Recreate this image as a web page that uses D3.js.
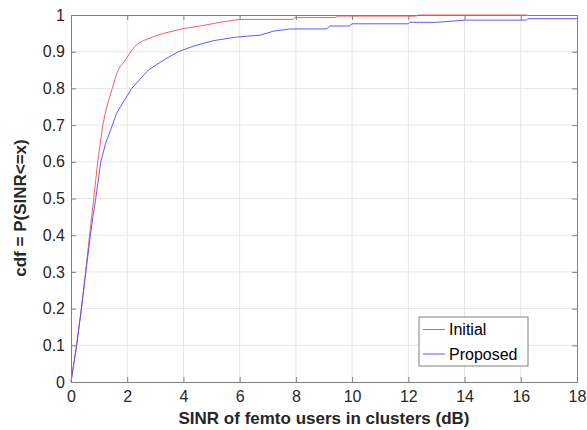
<!DOCTYPE html>
<html>
<head>
<meta charset="utf-8">
<script src="https://cdn.jsdelivr.net/npm/d3@7"></script>
<style>
  body { margin: 0; background: #fff; }
  text { font-family: "Liberation Sans", Arial, sans-serif; }
</style>
</head>
<body>
<script>
// CDF samples
let initialX = [0, 0.2, 0.37, 0.52, 0.66, 0.81, 0.95, 1.04, 1.13, 1.24, 1.35, 1.47, 1.62, 1.75, 1.86, 2.0, 2.16, 2.35, 2.57, 2.9, 3.29, 4.0, 4.59, 5.3, 6.0, 7.9, 7.95, 9.4, 9.45, 12.3, 12.35, 16.2];
let initialY = [0, 0.1, 0.2, 0.3, 0.4, 0.5, 0.6, 0.65, 0.7, 0.74, 0.77, 0.8, 0.84, 0.86, 0.87, 0.885, 0.904, 0.92, 0.93, 0.94, 0.95, 0.963, 0.97, 0.98, 0.988, 0.988, 0.993, 0.993, 0.997, 0.997, 1.0, 1.0];

let proposedX = [0, 0.2, 0.37, 0.53, 0.69, 0.78, 0.88, 1.06, 1.23, 1.41, 1.47, 1.62, 1.76, 2.16, 2.75, 3.35, 3.82, 4.35, 5.06, 5.9, 6.73, 7.2, 7.8, 9.1, 9.2, 9.9, 10.0, 12.0, 12.05, 13.0, 14.0, 16.2, 16.25, 18];
let proposedY = [0, 0.1, 0.2, 0.3, 0.4, 0.45, 0.5, 0.6, 0.65, 0.687, 0.7, 0.732, 0.75, 0.8, 0.85, 0.88, 0.9, 0.915, 0.93, 0.94, 0.945, 0.956, 0.962, 0.962, 0.97, 0.97, 0.976, 0.976, 0.98, 0.98, 0.986, 0.986, 0.99, 0.99];

let xTicks = [0, 2, 4, 6, 8, 10, 12, 14, 16, 18];
let yTicks = [0, 0.1, 0.2, 0.3, 0.4, 0.5, 0.6, 0.7, 0.8, 0.9, 1];
let seriesNames = ["Initial", "Proposed"];
let seriesColors = ["#ff4a4a", "#4a4aff"];

function main() {
    let svg = d3.select("body").append("svg")
        .attr("width", 587)
        .attr("height", 430);

    let left = 71, right = 577, top = 15, bottom = 382;

    let x = d3.scaleLinear().domain([0, 18]).range([left, right]);
    let y = d3.scaleLinear().domain([0, 1]).range([bottom, top]);

    // grid
    svg.append("g").selectAll("line")
        .data(xTicks.slice(1, -1))
        .enter().append("line")
        .attr("x1", d => x(d)).attr("x2", d => x(d))
        .attr("y1", top).attr("y2", bottom)
        .attr("stroke", "#e6e6e6").attr("stroke-width", 1);
    svg.append("g").selectAll("line")
        .data(yTicks.slice(1, -1))
        .enter().append("line")
        .attr("x1", left).attr("x2", right)
        .attr("y1", d => y(d)).attr("y2", d => y(d))
        .attr("stroke", "#e6e6e6").attr("stroke-width", 1);

    // lines
    let series = [
        initialX.map((v, i) => [v, initialY[i]]),
        proposedX.map((v, i) => [v, proposedY[i]])
    ];
    let line = d3.line().x(d => x(d[0])).y(d => y(d[1]));
    series.forEach((s, i) => {
        svg.append("path")
            .attr("d", line(s))
            .attr("fill", "none")
            .attr("stroke", seriesColors[i])
            .attr("stroke-width", 0.9);
    });

    // axes (box on, ticks inward)
    let axColor = "#808080";
    let xAxis = d3.axisBottom(x).tickValues(xTicks).tickSize(-5).tickPadding(9).tickFormat(d3.format("d"));
    let yAxis = d3.axisLeft(y).tickValues(yTicks).tickSize(-5).tickPadding(6).tickFormat(d => d === 0 || d === 1 ? d : d3.format(".1f")(d));
    let gx = svg.append("g").attr("transform", `translate(0,${bottom})`).call(xAxis);
    let gy = svg.append("g").attr("transform", `translate(${left},0)`).call(yAxis);
    let gx2 = svg.append("g").attr("transform", `translate(0,${top})`)
        .call(d3.axisTop(x).tickValues(xTicks).tickSize(-5).tickFormat(""));
    let gy2 = svg.append("g").attr("transform", `translate(${right},0)`)
        .call(d3.axisRight(y).tickValues(yTicks).tickSize(-5).tickFormat(""));
    [gx, gy, gx2, gy2].forEach(g => {
        g.select(".domain").attr("stroke", axColor);
        g.selectAll(".tick line").attr("stroke", axColor);
        g.selectAll(".tick text")
            .attr("fill", "#262626")
            .style("font-family", "'Liberation Sans', Arial, sans-serif")
            .style("font-size", "16px");
    });

    svg.append("text")
        .attr("x", (left + right) / 2)
        .attr("y", 424)
        .attr("text-anchor", "middle")
        .style("font-size", "17px")
        .style("font-weight", "bold")
        .attr("fill", "#262626")
        .text("SINR of femto users in clusters (dB)");

    svg.append("text")
        .attr("transform", "translate(26,208) rotate(-90)")
        .attr("text-anchor", "middle")
        .style("font-size", "17px")
        .style("font-weight", "bold")
        .attr("fill", "#262626")
        .text("cdf = P(SINR<=x)");

    // legend
    let legend = svg.append("g").attr("transform", "translate(419,317)");
    legend.append("rect")
        .attr("width", 109).attr("height", 49)
        .attr("fill", "#fff").attr("stroke", "#808080");
    seriesNames.forEach((name, i) => {
        let ly = 12.5 + i * 24.5;
        legend.append("line")
            .attr("x1", 4).attr("x2", 26)
            .attr("y1", ly).attr("y2", ly)
            .attr("stroke", seriesColors[i]).attr("stroke-width", 0.9);
        legend.append("text")
            .attr("x", 30).attr("y", ly + 5.5)
            .style("font-size", "16px")
            .attr("fill", "#000")
            .text(name);
    });
}

main()
</script>
</body>
</html>
